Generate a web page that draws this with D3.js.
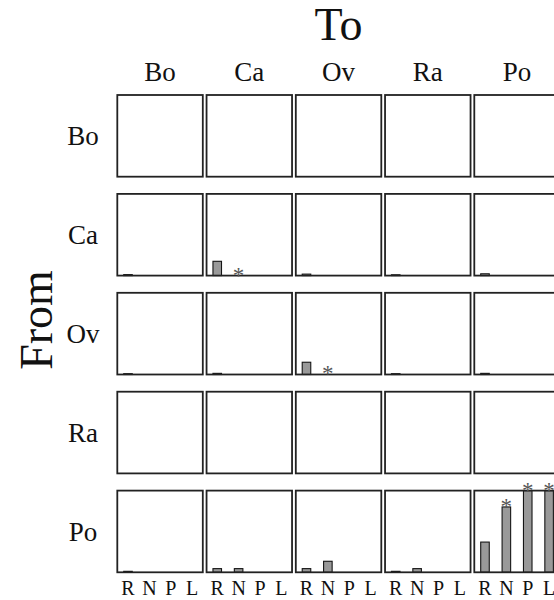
<!DOCTYPE html>
<html>
<head>
<meta charset="utf-8">
<script src="https://cdn.jsdelivr.net/npm/d3@7"></script>
<style>
  body { margin: 0; background: #fff; }
  text { font-family: "Liberation Serif", "DejaVu Serif", serif; fill: #111; }
</style>
</head>
<body>
<svg id="chart"></svg>
<script>
// regions (rows = from, columns = to) and the four measures under each panel
const regions = ["Bo", "Ca", "Ov", "Ra", "Po"];
const measures = ["R", "N", "P", "L"];

// bar heights (fraction of panel height), one row per "from"
// each entry: [R, N, P, L] for to = Bo, Ca, Ov, Ra, Po
const fromBo = [[0, 0, 0, 0], [0, 0, 0, 0], [0, 0, 0, 0], [0, 0, 0, 0], [0, 0, 0, 0]];
const fromCa = [[0.012, 0, 0, 0], [0.175, 0, 0, 0], [0.018, 0, 0, 0], [0.01, 0, 0, 0], [0.022, 0, 0, 0]];
const fromOv = [[0.01, 0, 0, 0], [0.014, 0, 0, 0], [0.15, 0, 0, 0], [0.01, 0, 0, 0], [0.014, 0, 0, 0]];
const fromRa = [[0, 0, 0, 0], [0, 0, 0, 0], [0, 0, 0, 0], [0, 0, 0, 0], [0, 0, 0, 0]];
const fromPo = [[0.012, 0, 0, 0], [0.045, 0.045, 0, 0], [0.045, 0.135, 0, 0], [0.012, 0.045, 0, 0], [0.37, 0.8, 1, 1]];

// significant cells marked with an asterisk: [from, to, measure]
const starred = [["Ca", "Ca", "N"], ["Ov", "Ov", "N"], ["Po", "Po", "N"], ["Po", "Po", "P"], ["Po", "Po", "L"]];

const rowsData = { Bo: fromBo, Ca: fromCa, Ov: fromOv, Ra: fromRa, Po: fromPo };

const width = 554, height = 600;

const svg = d3.select("#chart")
    .attr("width", width)
    .attr("height", height);

// outer grid scales
const colScale = d3.scaleBand()
    .domain(regions)
    .range([117.3, 559.8])
    .paddingInner(0.042);

const rowScale = d3.scaleBand()
    .domain(regions)
    .range([95, 572.3])
    .paddingInner(0.174);

const panelW = colScale.bandwidth();
const panelH = rowScale.bandwidth();

// inner scales for each panel
const xInner = d3.scaleBand()
    .domain(measures)
    .range([0, panelW])
    .paddingInner(0.6)
    .paddingOuter(0.3);

const yInner = d3.scaleLinear()
    .domain([0, 1])
    .range([panelH, 0]);

// flatten into cells
const cells = [];
regions.forEach(from => {
    regions.forEach((to, j) => {
        cells.push({ from, to, values: rowsData[from][j] });
    });
});

const panels = svg.selectAll(".panel")
    .data(cells)
    .join("g")
    .attr("class", "panel")
    .attr("transform", d => `translate(${colScale(d.to)},${rowScale(d.from)})`);

panels.selectAll(".bar")
    .data(d => d.values.map((v, i) => ({ m: measures[i], v })))
    .join("rect")
    .attr("class", "bar")
    .attr("x", d => xInner(d.m))
    .attr("width", xInner.bandwidth())
    .attr("y", d => yInner(d.v))
    .attr("height", d => Math.max(0, panelH - yInner(d.v)))
    .attr("fill", "#999")
    .attr("stroke", "#151515")
    .attr("stroke-width", 1.1);

// panel frame
panels.append("rect")
    .attr("width", panelW)
    .attr("height", panelH)
    .attr("fill", "none")
    .attr("stroke", "#222")
    .attr("stroke-width", 1.8);

// asterisks
svg.selectAll(".star")
    .data(starred)
    .join("text")
    .attr("class", "star")
    .attr("x", d => colScale(d[1]) + xInner(d[2]) + xInner.bandwidth() / 2)
    .attr("y", d => {
        const vals = rowsData[d[0]][regions.indexOf(d[1])];
        return rowScale(d[0]) + yInner(vals[measures.indexOf(d[2])]) + 7;
    })
    .attr("text-anchor", "middle")
    .style("font-size", "23px")
    .style("fill", "#555")
    .text("*");

// column headers
svg.selectAll(".col-label")
    .data(regions)
    .join("text")
    .attr("class", "col-label")
    .attr("x", d => colScale(d) + panelW / 2)
    .attr("y", 81)
    .attr("text-anchor", "middle")
    .style("font-size", "27px")
    .text(d => d);

// row labels
svg.selectAll(".row-label")
    .data(regions)
    .join("text")
    .attr("class", "row-label")
    .attr("x", 83)
    .attr("y", d => rowScale(d) + panelH / 2)
    .attr("dy", "0.35em")
    .attr("text-anchor", "middle")
    .style("font-size", "27px")
    .text(d => d);

// measure labels under the bottom row
const bottomLabels = [];
regions.forEach(to => measures.forEach(m => bottomLabels.push({ to, m })));

svg.selectAll(".m-label")
    .data(bottomLabels)
    .join("text")
    .attr("class", "m-label")
    .attr("x", d => colScale(d.to) + xInner(d.m) + xInner.bandwidth() / 2)
    .attr("y", 595)
    .attr("text-anchor", "middle")
    .style("font-size", "20px")
    .text(d => d.m);

// axis titles
svg.append("text")
    .attr("x", colScale("Ov") + panelW / 2)
    .attr("y", 40)
    .attr("text-anchor", "middle")
    .style("font-size", "46px")
    .text("To");

svg.append("text")
    .attr("transform", `translate(52, 320) rotate(-90)`)
    .attr("text-anchor", "middle")
    .style("font-size", "46px")
    .text("From");
</script>
</body>
</html>
